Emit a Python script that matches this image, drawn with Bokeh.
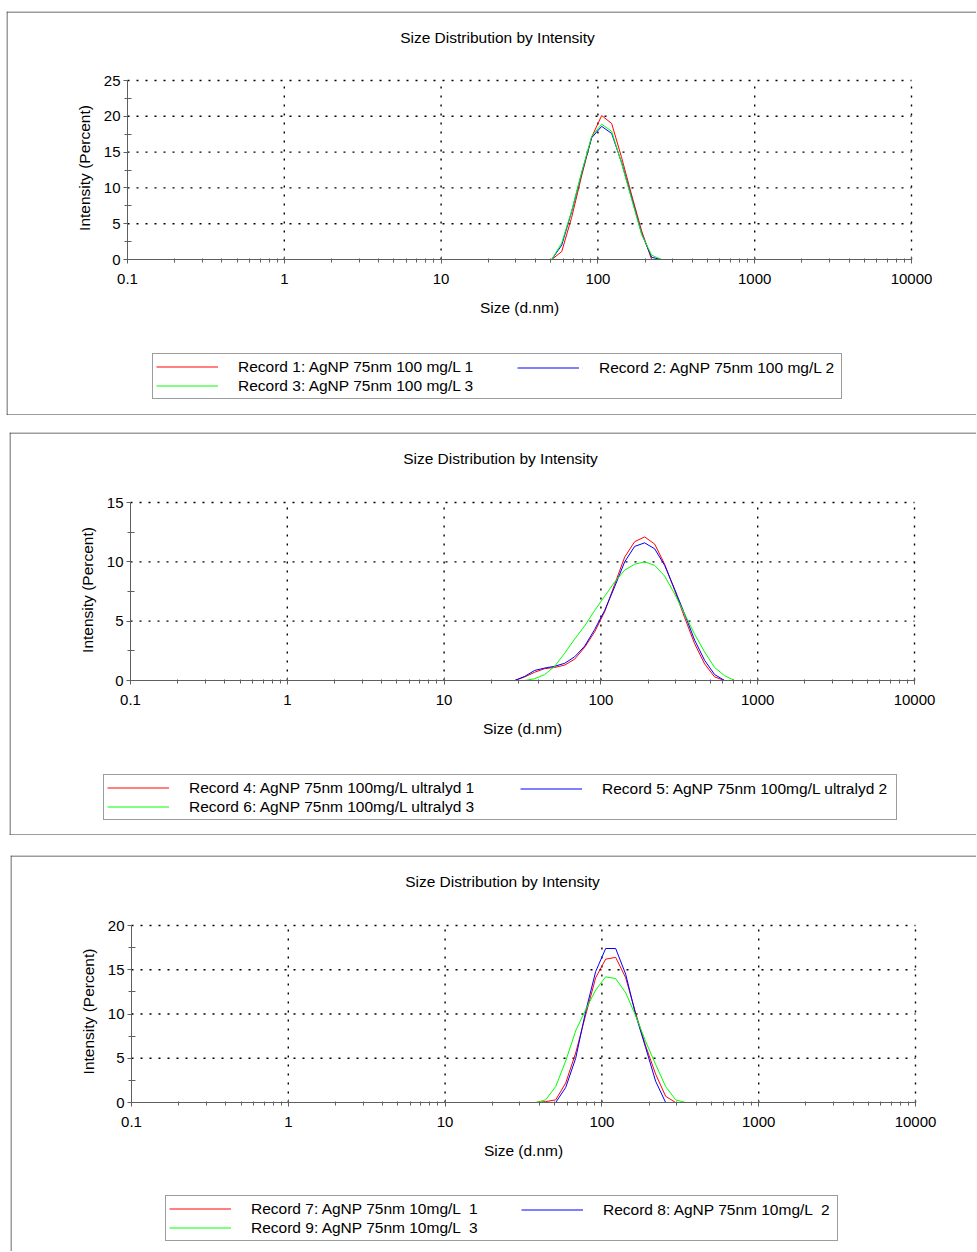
import math
from bokeh.plotting import figure
from bokeh.models import (Range1d, FixedTicker, Legend, LegendItem, Label, LogAxis,
                          LinearAxis, LogScale, Span)
from bokeh.layouts import column
from bokeh.embed import file_html
from bokeh.resources import INLINE

# Size classes (d.nm)
sizes = [0.4000, 0.4632, 0.5365, 0.6213, 0.7195, 0.8332, 0.9649, 1.117, 1.294, 1.499,
         1.736, 2.010, 2.328, 2.696, 3.122, 3.615, 4.187, 4.849, 5.615, 6.503,
         7.531, 8.721, 10.10, 11.70, 13.54, 15.69, 18.17, 21.04, 24.36, 28.21,
         32.67, 37.84, 43.82, 50.75, 58.77, 68.06, 78.82, 91.28, 105.7, 122.4,
         141.8, 164.2, 190.1, 220.2, 255.0, 295.3, 342.0, 396.1, 458.7, 531.2,
         615.1, 712.4, 825.0, 955.4, 1106, 1281, 1484, 1718, 1990, 2305,
         2669, 3091, 3580, 4145, 4801, 5560, 6439, 7456, 8635, 10000]

rec1 = [0, 0, 0, 0, 0, 0, 0, 0, 0, 0,
        0, 0, 0, 0, 0, 0, 0, 0, 0, 0,
        0, 0, 0, 0, 0, 0, 0, 0, 0, 0,
        0, 0, 0, 0, 1.1, 5.9, 11.7, 17.1, 20.1, 19.0,
        14.2, 9.0, 4.0, 0, 0, 0, 0, 0, 0, 0,
        0, 0, 0, 0, 0, 0, 0, 0, 0, 0,
        0, 0, 0, 0, 0, 0, 0, 0, 0, 0]
rec2 = [0, 0, 0, 0, 0, 0, 0, 0, 0, 0,
        0, 0, 0, 0, 0, 0, 0, 0, 0, 0,
        0, 0, 0, 0, 0, 0, 0, 0, 0, 0,
        0, 0, 0, 0, 2.0, 6.7, 12.1, 17.0, 18.6, 17.6,
        13.5, 8.6, 3.6, 0.3, 0, 0, 0, 0, 0, 0,
        0, 0, 0, 0, 0, 0, 0, 0, 0, 0,
        0, 0, 0, 0, 0, 0, 0, 0, 0, 0]
rec3 = [0, 0, 0, 0, 0, 0, 0, 0, 0, 0,
        0, 0, 0, 0, 0, 0, 0, 0, 0, 0,
        0, 0, 0, 0, 0, 0, 0, 0, 0, 0,
        0, 0, 0, 0, 2.3, 6.8, 12.2, 17.2, 18.9, 17.9,
        13.4, 8.4, 3.5, 0.6, 0, 0, 0, 0, 0, 0,
        0, 0, 0, 0, 0, 0, 0, 0, 0, 0,
        0, 0, 0, 0, 0, 0, 0, 0, 0, 0]

rec4 = [0, 0, 0, 0, 0, 0, 0, 0, 0, 0,
        0, 0, 0, 0, 0, 0, 0, 0, 0, 0,
        0, 0, 0, 0, 0, 0, 0, 0, 0, 0,
        0.3, 0.7, 1.0, 1.1, 1.3, 1.8, 2.8, 4.1, 5.8, 8.1,
        10.4, 11.7, 12.1, 11.5, 9.8, 7.6, 5.3, 3.1, 1.4, 0.3,
        0, 0, 0, 0, 0, 0, 0, 0, 0, 0,
        0, 0, 0, 0, 0, 0, 0, 0, 0, 0]
rec5 = [0, 0, 0, 0, 0, 0, 0, 0, 0, 0,
        0, 0, 0, 0, 0, 0, 0, 0, 0, 0,
        0, 0, 0, 0, 0, 0, 0, 0, 0, 0,
        0.35, 0.85, 1.05, 1.2, 1.45, 2.0, 2.9, 4.3, 5.9, 7.9,
        10.0, 11.3, 11.6, 11.1, 9.7, 7.7, 5.6, 3.4, 1.7, 0.5,
        0, 0, 0, 0, 0, 0, 0, 0, 0, 0,
        0, 0, 0, 0, 0, 0, 0, 0, 0, 0]
rec6 = [0, 0, 0, 0, 0, 0, 0, 0, 0, 0,
        0, 0, 0, 0, 0, 0, 0, 0, 0, 0,
        0, 0, 0, 0, 0, 0, 0, 0, 0, 0,
        0, 0.15, 0.5, 1.2, 2.3, 3.5, 4.6, 5.9, 7.1, 8.3,
        9.3, 9.8, 10.0, 9.7, 8.8, 7.3, 5.6, 3.9, 2.4, 1.1,
        0.4, 0, 0, 0, 0, 0, 0, 0, 0, 0,
        0, 0, 0, 0, 0, 0, 0, 0, 0, 0]

rec7 = [0, 0, 0, 0, 0, 0, 0, 0, 0, 0,
        0, 0, 0, 0, 0, 0, 0, 0, 0, 0,
        0, 0, 0, 0, 0, 0, 0, 0, 0, 0,
        0, 0, 0.1, 0.3, 2.2, 5.6, 9.9, 14.1, 16.2, 16.4,
        14.1, 10.1, 6.4, 3.2, 0.7, 0, 0, 0, 0, 0,
        0, 0, 0, 0, 0, 0, 0, 0, 0, 0,
        0, 0, 0, 0, 0, 0, 0, 0, 0, 0]
rec8 = [0, 0, 0, 0, 0, 0, 0, 0, 0, 0,
        0, 0, 0, 0, 0, 0, 0, 0, 0, 0,
        0, 0, 0, 0, 0, 0, 0, 0, 0, 0,
        0, 0, 0, 0, 1.7, 5.0, 10.3, 14.8, 17.4, 17.4,
        14.5, 9.9, 6.2, 2.4, 0, 0, 0, 0, 0, 0,
        0, 0, 0, 0, 0, 0, 0, 0, 0, 0,
        0, 0, 0, 0, 0, 0, 0, 0, 0, 0]
rec9 = [0, 0, 0, 0, 0, 0, 0, 0, 0, 0,
        0, 0, 0, 0, 0, 0, 0, 0, 0, 0,
        0, 0, 0, 0, 0, 0, 0, 0, 0, 0,
        0, 0, 0.3, 1.8, 4.7, 8.1, 10.5, 12.7, 14.2, 14.0,
        12.4, 9.8, 6.9, 4.3, 1.8, 0.3, 0, 0, 0, 0,
        0, 0, 0, 0, 0, 0, 0, 0, 0, 0,
        0, 0, 0, 0, 0, 0, 0, 0, 0, 0]

labels1 = ["Record 1: AgNP 75nm 100 mg/L 1", "Record 2: AgNP 75nm 100 mg/L 2", "Record 3: AgNP 75nm 100 mg/L 3"]
labels2 = ["Record 4: AgNP 75nm 100mg/L ultralyd 1", "Record 5: AgNP 75nm 100mg/L ultralyd 2", "Record 6: AgNP 75nm 100mg/L ultralyd 3"]
labels3 = ["Record 7: AgNP 75nm 10mg/L  1", "Record 8: AgNP 75nm 10mg/L  2", "Record 9: AgNP 75nm 10mg/L  3"]

x_ticks = [0.1, 1, 10, 100, 1000, 10000]
x_tick_labels = ["0.1", "1", "10", "100", "1000", "10000"]
y_ticks1 = [0, 5, 10, 15, 20, 25]
y_ticks2 = [0, 5, 10, 15]
y_ticks3 = [0, 5, 10, 15, 20]

title_text = "Size Distribution by Intensity"
x_label = "Size (d.nm)"
y_label = "Intensity (Percent)"

colors = ["#ff0000", "#0000ff", "#00ff00"]
FONT = "Liberation Sans"
FS_TICK = "15px"
FS_TEXT = "15.5px"
AXC = "#5f5f5f"
BORDER_C = "#3a3a3a"


def build(records, labels, yticks, geo):
    # geo: page-pixel geometry of this panel
    ox, oy, W, H = geo["ox"], geo["oy"], geo["W"], geo["H"]
    x0p, x1p, ytp, ybp = geo["x0p"], geo["x1p"], geo["ytp"], geo["ybp"]
    ymax = yticks[-1]
    dpx = (x1p - x0p) / 5.0
    lx0 = -1 - (x0p - ox) / dpx
    lx1 = 4 + (W - (x1p - ox)) / dpx
    upp = (ybp - ytp) / ymax
    cy0 = ybp - oy
    y0 = -(H - cy0) / upp
    y1 = cy0 / upp

    p = figure(width=W, height=H, x_axis_type="log",
               x_range=Range1d(10 ** lx0, 10 ** lx1), y_range=Range1d(y0, y1),
               x_axis_location=None, y_axis_location=None,
               output_backend="svg", toolbar_location=None, min_border=0)
    p.x_scale = LogScale()
    p.outline_line_color = None
    p.background_fill_color = "white"
    p.border_fill_color = "white"
    p.grid.visible = False

    def sx(px):
        return px - ox

    def sy(py):
        return H - (py - oy)

    # dotted grid at the major ticks
    p.segment(x0=x_ticks[1:], y0=[0] * (len(x_ticks) - 1), x1=x_ticks[1:], y1=[ymax] * (len(x_ticks) - 1),
              line_color="black", line_dash="2 7", line_width=1.4)
    p.segment(x0=[x_ticks[0]] * (len(yticks) - 1), y0=yticks[1:], x1=[x_ticks[-1]] * (len(yticks) - 1), y1=yticks[1:],
              line_color="black", line_dash="2 7", line_width=1.4)

    minor_x = [d * k for d in x_ticks[:-1] for k in range(2, 10)]
    step = yticks[1] - yticks[0]
    xaxis = LogAxis(fixed_location=0, bounds=(x_ticks[0], x_ticks[-1]),
                    ticker=FixedTicker(ticks=x_ticks, minor_ticks=minor_x),
                    major_label_overrides={t: s for t, s in zip(x_ticks, x_tick_labels)})
    yaxis = LinearAxis(fixed_location=x_ticks[0], bounds=(0, ymax),
                       ticker=FixedTicker(ticks=yticks, minor_ticks=[t + step / 2 for t in yticks[:-1]]))
    for ax in (xaxis, yaxis):
        ax.axis_line_color = AXC
        ax.major_tick_line_color = AXC
        ax.minor_tick_line_color = AXC
        ax.major_label_text_font = FONT
        ax.major_label_text_font_size = FS_TICK
        ax.major_label_text_color = "black"
    xaxis.major_tick_in = 3
    xaxis.major_tick_out = 4
    xaxis.minor_tick_in = 1
    xaxis.minor_tick_out = 3
    xaxis.major_label_standoff = 10
    yaxis.major_tick_in = 0
    yaxis.major_tick_out = 4
    yaxis.minor_tick_in = 4
    yaxis.minor_tick_out = 3
    yaxis.major_label_standoff = 3
    p.add_layout(xaxis, "below")
    p.add_layout(yaxis, "left")

    rs = []
    for rec, c in zip(records, colors):
        rs.append(p.line(sizes, rec, line_color=c, line_width=1))

    txt = dict(text_font=FONT, text_font_size=FS_TEXT, text_color="black",
               text_align="center", text_baseline="middle", x_units="screen", y_units="screen")
    p.add_layout(Label(x=sx(geo["title"][0]), y=sy(geo["title"][1]), text=title_text, **txt))
    p.add_layout(Label(x=sx(geo["xlab"][0]), y=sy(geo["xlab"][1]), text=x_label, **txt))
    p.add_layout(Label(x=sx(geo["ylab"][0]), y=sy(geo["ylab"][1]), text=y_label, angle=math.pi / 2, **txt))

    gh = 19
    pad = 3
    common = dict(label_text_font=FONT, label_text_font_size=FS_TEXT, label_text_color="black",
                  glyph_width=62, glyph_height=gh, label_height=gh, label_standoff=20,
                  padding=pad, spacing=0, margin=0, orientation="vertical")
    lax, lay = geo["leg"]
    hA = 2 * gh + 2 * pad
    hB = gh + 2 * pad
    legA = Legend(items=[LegendItem(label=labels[0], renderers=[rs[0]]),
                         LegendItem(label=labels[2], renderers=[rs[2]])],
                  location=(sx(lax), sy(lay) - hA), label_width=geo["legw"] - 2 * pad - 82,
                  border_line_color=BORDER_C, border_line_width=1,
                  background_fill_color="white", background_fill_alpha=1, **common)
    legB = Legend(items=[LegendItem(label=labels[1], renderers=[rs[1]])],
                  location=(sx(geo["legB"]), sy(lay) - hB + 3), label_width=20,
                  border_line_color=None, background_fill_alpha=0, **common)
    p.add_layout(legA)
    p.add_layout(legB)

    # panel frame (left, top, and bottom edges)
    p.add_layout(Span(location=0.5, location_units="screen", dimension="height",
                      line_color=BORDER_C, line_width=1))
    p.add_layout(Span(location=H - 0.5, location_units="screen", dimension="width",
                      line_color=BORDER_C, line_width=1))
    if geo["bottom"]:
        p.add_layout(Span(location=0.5, location_units="screen", dimension="width",
                          line_color=BORDER_C, line_width=1))
    p.margin = (geo["mt"], 0, 0, ox)
    return p


geo1 = dict(ox=6, oy=11, W=970, H=404, x0p=127, x1p=911, ytp=80, ybp=259,
            title=(497, 37), xlab=(519, 307), ylab=(84, 167.5),
            leg=(152, 355), legw=688, legB=517, bottom=True, mt=11)
geo2 = dict(ox=9, oy=432, W=967, H=403, x0p=130, x1p=914, ytp=502, ybp=680,
            title=(500, 458), xlab=(522, 728), ylab=(87, 589.5),
            leg=(103, 776), legw=792, legB=520, bottom=True, mt=17)
geo3 = dict(ox=10, oy=855, W=966, H=396, x0p=131, x1p=915, ytp=925, ybp=1102,
            title=(502, 881), xlab=(523, 1150), ylab=(88, 1011),
            leg=(165, 1197), legw=671, legB=521, bottom=False, mt=20)

p1 = build([rec1, rec2, rec3], labels1, y_ticks1, geo1)
p2 = build([rec4, rec5, rec6], labels2, y_ticks2, geo2)
p3 = build([rec7, rec8, rec9], labels3, y_ticks3, geo3)

layout = column(p1, p2, p3, spacing=0)
open("out.html", "w").write(file_html(layout, INLINE))
